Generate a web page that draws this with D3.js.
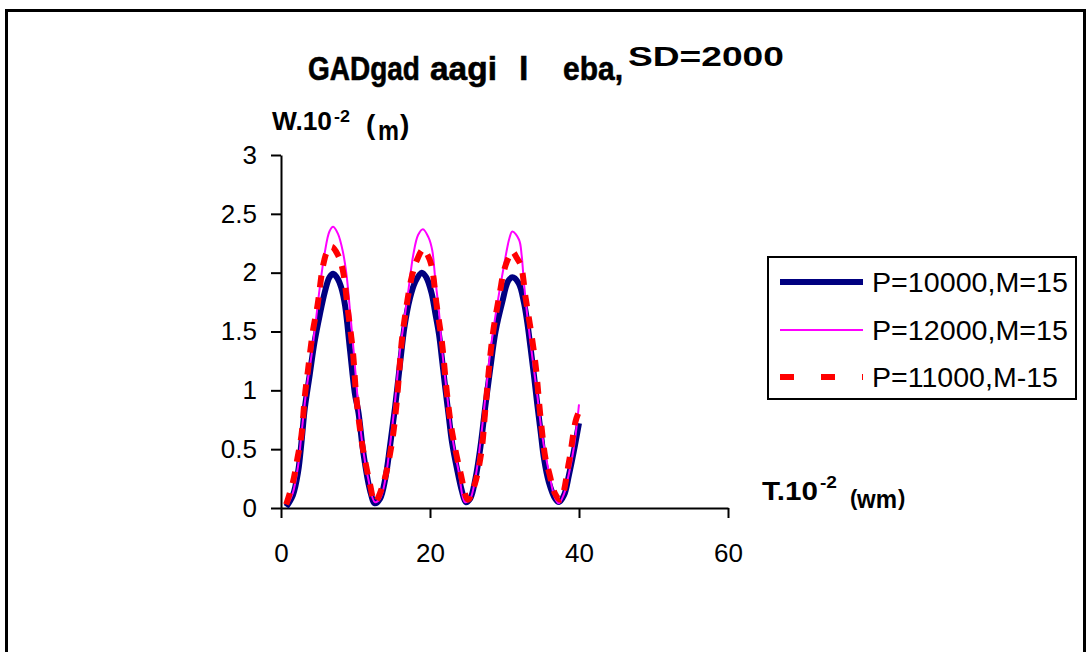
<!DOCTYPE html>
<html>
<head>
<meta charset="utf-8">
<script src="https://cdn.jsdelivr.net/npm/d3@7"></script>
<style>
  html, body { margin: 0; padding: 0; background: #fff; }
  svg { display: block; font-family: "Liberation Sans", Arial, sans-serif; }
</style>
</head>
<body>
<svg id="chart" width="1086" height="652"></svg>
<script>
// ---- data ----
const seriesNames = ["P=10000,M=15", "P=12000,M=15", "P=11000,M-15"];
const xTicks = [0, 20, 40, 60];
const yTicks = [0, 0.5, 1, 1.5, 2, 2.5, 3];
const yTickLabels = ["0", "0.5", "1", "1.5", "2", "2.5", "3"];

// P=10000, M=15
const tP10 = [0.7, 1.6, 2.3, 2.75, 3.2, 3.85, 4.5, 5.2, 5.9, 6.5, 7.0, 7.6, 8.1, 8.6, 9.25, 9.9, 10.4, 11.05, 11.95, 12.6,
  13.3, 14.0, 14.6, 15.3, 16.0, 16.6, 17.3, 18.0, 18.9, 19.5, 20.2, 20.7, 21.2, 21.6, 22.05, 22.5, 22.95, 23.6, 24.3, 24.8,
  25.4, 26.1, 26.75, 27.4, 28.1, 28.8, 29.7, 30.5, 31.05, 31.9, 32.6, 33.05, 33.5, 33.95, 34.4, 34.85, 35.3, 35.95, 36.8, 37.3,
  38.0, 38.65, 39.3, 40];
const wP10 = [0.01, 0.11, 0.31, 0.56, 0.85, 1.13, 1.41, 1.64, 1.84, 1.96, 1.99, 1.95, 1.87, 1.72, 1.35, 0.98, 0.81, 0.47, 0.15, 0.04,
  0.08, 0.25, 0.51, 0.85, 1.24, 1.55, 1.78, 1.92, 2.00, 1.96, 1.83, 1.66, 1.48, 1.27, 1.02, 0.79, 0.56, 0.34, 0.14, 0.05,
  0.08, 0.25, 0.51, 0.85, 1.19, 1.50, 1.75, 1.93, 1.96, 1.91, 1.75, 1.58, 1.36, 1.13, 0.88, 0.65, 0.42, 0.22, 0.08, 0.05,
  0.11, 0.28, 0.48, 0.72];

// P=12000, M=15
const tP12 = [0.9, 1.6, 2.3, 2.75, 3.4, 4.1, 4.6, 5.2, 5.85, 6.5, 7.0, 7.65, 8.3, 8.8, 9.2, 9.8, 10.3, 10.85, 11.7, 12.6,
  13.3, 14.0, 14.6, 15.3, 15.9, 16.5, 17.1, 17.75, 18.4, 19.05, 19.8, 20.3, 20.7, 21.2, 21.6, 22.3, 22.95, 23.85, 24.7, 25.4,
  26.1, 26.75, 27.4, 28.1, 29.0, 29.9, 30.65, 31.05, 31.95, 32.3, 32.6, 33.05, 33.7, 34.4, 35.05, 35.95, 36.8, 37.3, 38.0, 38.4,
  39.3, 40];
const wP12 = [0.03, 0.13, 0.36, 0.63, 1.0, 1.3, 1.55, 1.87, 2.16, 2.35, 2.39, 2.33, 2.18, 1.98, 1.72, 1.30, 0.92, 0.58, 0.25, 0.05,
  0.08, 0.24, 0.52, 0.90, 1.30, 1.58, 1.85, 2.15, 2.32, 2.37, 2.30, 2.19, 1.95, 1.67, 1.36, 0.96, 0.62, 0.31, 0.05, 0.08,
  0.26, 0.55, 0.92, 1.33, 1.72, 2.05, 2.29, 2.35, 2.28, 2.15, 1.92, 1.64, 1.30, 0.96, 0.62, 0.31, 0.08, 0.04, 0.12, 0.22,
  0.51, 0.88];

// P=11000, M-15
const tP11 = [0.7, 1.6, 2.2, 2.75, 3.2, 3.6, 4.3, 4.9, 5.65, 6.2, 6.8, 7.65, 8.3, 9.0, 9.65, 10.1, 10.85, 11.95, 12.6, 13.7,
  14.85, 15.5, 16.2, 16.6, 17.5, 18.2, 19.1, 19.6, 20.2, 20.9, 21.6, 22.3, 22.95, 24.05, 25.1, 26.0, 26.9, 27.4, 28.1, 28.55,
  29.4, 29.9, 30.5, 31.05, 31.7, 32.2, 32.85, 33.7, 34.2, 34.85, 35.5, 35.95, 36.8, 37.5, 38.65, 39.55, 40];
const wP11 = [0.03, 0.22, 0.42, 0.62, 0.95, 1.16, 1.51, 1.72, 2.06, 2.18, 2.22, 2.15, 2.02, 1.67, 1.33, 0.95, 0.56, 0.20, 0.05, 0.20,
  0.54, 0.88, 1.41, 1.61, 1.95, 2.10, 2.20, 2.16, 2.06, 1.72, 1.41, 0.96, 0.65, 0.31, 0.07, 0.20, 0.48, 0.82, 1.30, 1.53,
  1.84, 2.01, 2.12, 2.18, 2.12, 2.06, 1.78, 1.44, 1.20, 0.76, 0.42, 0.31, 0.12, 0.07, 0.39, 0.74, 0.82];

// ---- layout ----
const svg = d3.select("#chart");
const font = "'Liberation Sans', Arial, sans-serif";

// outer frame (runs off the bottom edge)
svg.append("rect")
  .attr("x", 6.5).attr("y", 10.5).attr("width", 1078).attr("height", 700)
  .attr("fill", "#fff").attr("stroke", "#000").attr("stroke-width", 3);

const x = d3.scaleLinear().domain([0, 60]).range([281, 728]);
const y = d3.scaleLinear().domain([0, 3]).range([508, 155]);

// axes
const xAxis = d3.axisBottom(x).tickValues(xTicks).tickSize(10).tickSizeOuter(0).tickPadding(26)
  .tickFormat(d3.format("d"));
const yAxis = d3.axisLeft(y).tickValues(yTicks).tickSize(10).tickSizeOuter(0).tickPadding(14)
  .tickFormat((d, i) => yTickLabels[i]);

const gx = svg.append("g").attr("transform", "translate(0,508)").call(xAxis);
const gy = svg.append("g").attr("transform", "translate(281,0)").call(yAxis);
[gx, gy].forEach(g => {
  g.selectAll("path.domain").attr("stroke", "#000").attr("stroke-width", 2);
  g.selectAll(".tick line").attr("stroke", "#000").attr("stroke-width", 2);
  g.selectAll(".tick text").attr("fill", "#000").style("font-family", font).style("font-size", "26px");
});

// series
const series = [
  { name: seriesNames[0], t: tP10, w: wP10, color: "#000080", width: 6, dash: null },
  { name: seriesNames[1], t: tP12, w: wP12, color: "#FF00FF", width: 2, dash: null },
  { name: seriesNames[2], t: tP11, w: wP11, color: "#FF0000", width: 6, dash: "12,10" }
];

const line = d3.line()
  .x(d => x(d[0])).y(d => y(d[1]))
  .curve(d3.curveCatmullRom.alpha(0.5));

series.forEach(s => {
  const pts = d3.zip(s.t, s.w);
  svg.append("path")
    .datum(pts)
    .attr("d", line)
    .attr("fill", "none")
    .attr("stroke", s.color)
    .attr("stroke-width", s.width)
    .attr("stroke-linejoin", "round")
    .attr("stroke-dasharray", s.dash);
});

// text piece; when a target width is given the glyphs are scaled horizontally to it
function txt(str, px, py, size, weight, len) {
  const t = svg.append("text")
    .attr("x", 0).attr("y", 0)
    .attr("transform", `translate(${px},${py})`)
    .style("font-family", font)
    .style("font-size", size + "px")
    .style("font-weight", weight)
    .attr("fill", "#000")
    .text(str);
  if (len) {
    const natural = t.node().getComputedTextLength();
    if (natural > 0) t.attr("transform", `translate(${px},${py}) scale(${len / natural},1)`);
  }
  return t;
}

// title
txt("GADgad", 308, 80, 34, "bold", 112).attr("stroke", "#000").attr("stroke-width", 0.6);
txt("aagi", 430, 80, 34, "bold", 67).attr("stroke", "#000").attr("stroke-width", 0.6);
txt("l", 519, 80, 34, "bold").attr("stroke", "#000").attr("stroke-width", 0.6);
txt("eba,", 563, 80, 34, "bold", 60).attr("stroke", "#000").attr("stroke-width", 0.6);
txt("SD=2000", 628, 66, 28, "bold", 156);

// y-axis title
txt("W.10", 272, 130, 25, "bold", 60);
txt("-2", 334, 122, 17, "bold", 16);
txt("(", 366, 134, 28, "bold");
txt("m", 378, 140, 28, "bold", 21);
txt(")", 400, 134, 28, "bold");

// x-axis title
txt("T.10", 762, 500, 26, "bold", 56);
txt("-2", 820, 488, 16, "bold", 17);
txt("(", 850, 505, 22, "bold");
txt("wm", 857, 508, 25, "bold", 40);
txt(")", 898, 505, 22, "bold");

// legend
svg.append("rect")
  .attr("x", 768).attr("y", 257).attr("width", 308).attr("height", 142)
  .attr("fill", "#fff").attr("stroke", "#000").attr("stroke-width", 2);

const legendY = [282, 330, 377];
const legendLen = [196, 196, 186];
series.forEach((s, i) => {
  svg.append("line")
    .attr("x1", 780).attr("x2", 863)
    .attr("y1", legendY[i]).attr("y2", legendY[i])
    .attr("stroke", s.color)
    .attr("stroke-width", s.width)
    .attr("stroke-dasharray", s.dash ? "14,27" : null);
  txt(s.name, 872, legendY[i] + 10, 28, "normal", legendLen[i]);
});
</script>
</body>
</html>
